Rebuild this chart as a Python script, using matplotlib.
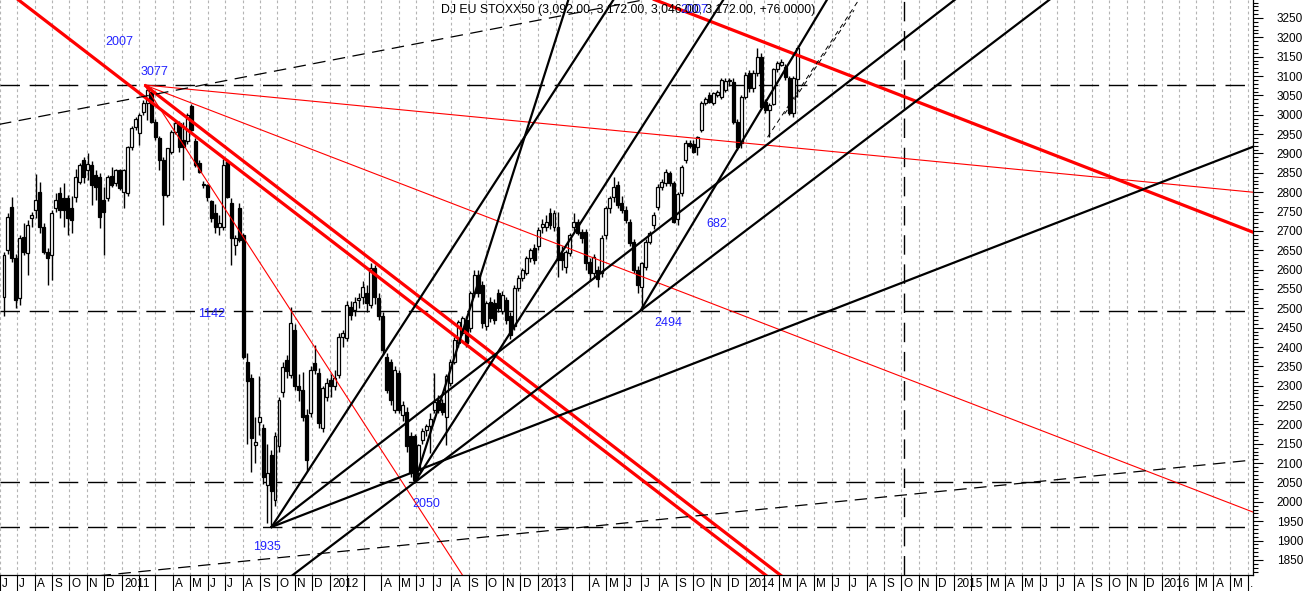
import numpy as np
import pandas as pd
import matplotlib
matplotlib.use('Agg')
import matplotlib.pyplot as plt
import matplotlib.dates as mdates
from matplotlib.ticker import MultipleLocator
from matplotlib.transforms import blended_transform_factory

plt.rcParams['font.family'] = ['Liberation Sans', 'DejaVu Sans']

# weekly candles, first week and OHLC
first_week = '2010-06-08'
opens = [2530, 2651, 2763, 2629, 2526, 2685, 2642, 2733, 2754, 2801,
         2711, 2646, 2638, 2758, 2797, 2784, 2784, 2760, 2788, 2827,
         2884, 2857, 2870, 2844, 2840, 2780, 2784, 2842, 2823, 2857,
         2801, 2797, 2918, 2969, 2952, 3008, 3030, 3060, 2982, 2939,
         2883, 2793, 2905, 2956, 2978, 2935, 2931, 3023, 2931, 2876,
         2822, 2818, 2776, 2745, 2711, 2711, 2879, 2771, 2664, 2758,
         2689, 2362, 2319, 2147, 2207, 2190, 2044, 2121, 2005, 2143,
         2285, 2367, 2328, 2444, 2298, 2290, 2225, 2229, 2358, 2332,
         2190, 2272, 2315, 2300, 2328, 2427, 2423, 2504, 2496, 2522,
         2530, 2539, 2509, 2603, 2526, 2479, 2375, 2362, 2238, 2332,
         2224, 2233, 2169, 2169, 2074, 2160, 2186, 2195, 2237, 2263,
         2255, 2220, 2306, 2362, 2410, 2436, 2470, 2449, 2539, 2586,
         2560, 2453, 2517, 2513, 2539, 2492, 2522, 2479, 2453, 2552,
         2578, 2590, 2629, 2655, 2660, 2711, 2711, 2745, 2711, 2711,
         2642, 2608, 2642, 2711, 2724, 2698, 2698, 2620, 2590, 2599,
         2590, 2690, 2758, 2788, 2818, 2771, 2754, 2724, 2672, 2599,
         2556, 2608, 2672, 2715, 2763, 2814, 2823, 2849, 2823, 2730,
         2797, 2883, 2926, 2925, 2918, 2961, 3030, 3050, 3030, 3050,
         3047, 3064, 3086, 3085, 2982, 2926, 3047, 3107, 3068, 3107,
         3150, 3034, 3012, 3029, 3117, 3129, 3124, 3094, 3004, 3092]
highs = [2645, 2745, 2788, 2640, 2690, 2720, 2728, 2750, 2847, 2827,
         2720, 2655, 2754, 2797, 2814, 2823, 2793, 2790, 2861, 2875,
         2892, 2900, 2880, 2857, 2849, 2814, 2844, 2866, 2861, 2861,
         2861, 2920, 2970, 2995, 3004, 3038, 3077, 3070, 2990, 2945,
         2890, 2915, 2960, 2987, 2985, 2982, 3004, 3027, 2940, 2882,
         2830, 2822, 2780, 2770, 2740, 2887, 2885, 2785, 2690, 2771,
         2695, 2385, 2330, 2220, 2324, 2200, 2150, 2135, 2180, 2270,
         2360, 2380, 2504, 2460, 2330, 2335, 2240, 2350, 2405, 2345,
         2300, 2320, 2330, 2340, 2435, 2445, 2520, 2520, 2530, 2540,
         2570, 2560, 2616, 2612, 2540, 2490, 2385, 2370, 2350, 2340,
         2260, 2245, 2180, 2175, 2150, 2190, 2200, 2229, 2332, 2275,
         2265, 2330, 2370, 2425, 2470, 2480, 2480, 2545, 2600, 2600,
         2570, 2520, 2530, 2525, 2550, 2545, 2530, 2490, 2560, 2585,
         2605, 2635, 2655, 2665, 2710, 2730, 2740, 2760, 2755, 2750,
         2660, 2650, 2695, 2745, 2730, 2705, 2705, 2630, 2640, 2610,
         2690, 2765, 2790, 2840, 2830, 2790, 2765, 2730, 2680, 2610,
         2620, 2680, 2700, 2750, 2820, 2835, 2860, 2855, 2830, 2800,
         2870, 2935, 2935, 2935, 2945, 3035, 3045, 3058, 3060, 3065,
         3095, 3095, 3095, 3095, 2990, 3050, 3110, 3115, 3115, 3172,
         3160, 3040, 3030, 3120, 3140, 3145, 3130, 3100, 3100, 3172]
lows = [2479, 2640, 2620, 2500, 2509, 2637, 2586, 2711, 2733, 2694,
        2640, 2560, 2573, 2750, 2733, 2711, 2690, 2694, 2775, 2820,
        2823, 2831, 2767, 2780, 2707, 2638, 2778, 2814, 2816, 2806,
        2758, 2790, 2910, 2960, 2922, 3000, 2987, 2978, 2935, 2857,
        2715, 2788, 2898, 2950, 2905, 2831, 2925, 2955, 2866, 2850,
        2810, 2776, 2724, 2694, 2690, 2702, 2785, 2612, 2638, 2672,
        2370, 2150, 2078, 2100, 2173, 2045, 1945, 1935, 1990, 2130,
        2270, 2320, 2320, 2290, 2260, 2210, 2080, 2220, 2330, 2190,
        2180, 2260, 2270, 2290, 2320, 2400, 2415, 2470, 2480, 2500,
        2510, 2490, 2500, 2510, 2470, 2380, 2280, 2250, 2230, 2230,
        2210, 2130, 2065, 2050, 2060, 2150, 2170, 2125, 2230, 2230,
        2225, 2147, 2300, 2355, 2400, 2430, 2400, 2440, 2530, 2530,
        2450, 2445, 2465, 2460, 2490, 2485, 2460, 2420, 2445, 2545,
        2570, 2585, 2620, 2615, 2650, 2695, 2700, 2705, 2700, 2582,
        2599, 2590, 2635, 2700, 2690, 2670, 2600, 2570, 2580, 2556,
        2580, 2680, 2745, 2775, 2760, 2745, 2720, 2660, 2590, 2540,
        2494, 2600, 2665, 2705, 2755, 2805, 2815, 2815, 2720, 2715,
        2790, 2875, 2915, 2900, 2895, 2955, 3025, 3030, 3025, 3045,
        3040, 3060, 3075, 2975, 2910, 2915, 3040, 3060, 3060, 3100,
        3015, 3005, 2943, 3025, 3110, 3125, 3090, 2999, 2995, 3046]
closes = [2638, 2737, 2629, 2522, 2681, 2646, 2715, 2741, 2780, 2711,
          2646, 2629, 2745, 2780, 2754, 2754, 2733, 2728, 2840, 2870,
          2840, 2874, 2819, 2814, 2737, 2750, 2840, 2819, 2857, 2810,
          2857, 2918, 2965, 2990, 2999, 3030, 3064, 2982, 2943, 2883,
          2793, 2913, 2956, 2978, 2918, 2918, 2999, 2961, 2870, 2853,
          2818, 2788, 2733, 2711, 2720, 2870, 2788, 2681, 2681, 2676,
          2375, 2311, 2164, 2155, 2220, 2065, 2074, 2027, 2169, 2263,
          2349, 2337, 2461, 2298, 2290, 2220, 2108, 2341, 2341, 2203,
          2293, 2306, 2298, 2320, 2427, 2435, 2509, 2483, 2517, 2526,
          2556, 2513, 2603, 2530, 2479, 2392, 2289, 2263, 2341, 2238,
          2250, 2143, 2074, 2056, 2147, 2182, 2195, 2215, 2259, 2237,
          2233, 2324, 2362, 2418, 2465, 2474, 2410, 2539, 2586, 2539,
          2461, 2513, 2474, 2470, 2500, 2535, 2470, 2431, 2552, 2578,
          2599, 2629, 2651, 2625, 2702, 2719, 2724, 2715, 2745, 2625,
          2625, 2646, 2690, 2724, 2694, 2681, 2616, 2590, 2633, 2577,
          2681, 2758, 2784, 2814, 2767, 2754, 2728, 2668, 2599, 2560,
          2616, 2672, 2694, 2741, 2814, 2827, 2853, 2823, 2724, 2795,
          2866, 2926, 2920, 2905, 2943, 3030, 3040, 3034, 3055, 3058,
          3090, 3086, 3090, 2982, 2918, 3047, 3103, 3068, 3107, 3150,
          3021, 3012, 3025, 3117, 3133, 3137, 3098, 3004, 3096, 3172]

# horizontal support / resistance levels
levels = [3077, 2494, 2050, 1935]
vline_date = '2014-10-05'

# anchor points (date, price)
peak = ('2011-02-10', 3077)
low_1935 = ('2011-09-21', 1935)
low_2050 = ('2012-05-29', 2050)
low_2494 = ('2013-06-30', 2494)

red_thick = [(('2010-11-18', 3141), ('2014-01-01', 1850), True),
             (peak, ('2014-01-27', 1850), False),
             (('2013-11-30', 3224), ('2016-06-09', 2697), True)]
red_thin = [(peak, ('2016-06-09', 2800), False),
            (peak, ('2016-06-09', 1974), False),
            (peak, ('2012-07-01', 1927), False)]
black_lines = [(low_1935, ('2013-05-13', 3296), False),
               (low_2050, ('2013-02-23', 3296), False),
               (low_1935, ('2015-01-02', 3296), False),
               (low_2050, ('2013-11-22', 3296), False),
               (low_1935, ('2016-06-09', 2917), False),
               (low_2050, low_2494, True),
               (low_2494, ('2014-05-23', 3296), False)]
dashed_lines = [(('2010-06-13', 2979), ('2012-01-04', 3141), True),
                (('2010-09-28', 1801), ('2016-06-09', 2108), True)]
short_dashed = [(('2014-02-08', 2942), ('2014-07-18', 3296)),
                (('2014-03-10', 3002), ('2014-07-10', 3270))]

labels_txt = ['2007', '3077', '1142', '1935', '2050', '2494', '682', '2007']
labels_pos = [('2010-12-27', 3188), ('2011-02-27', 3110), ('2011-06-08', 2485),
              ('2011-09-12', 1883), ('2012-06-18', 1994), ('2013-08-17', 2462),
              ('2013-11-11', 2718), ('2013-10-02', 3271)]

month_labels = (['J', 'J', 'A', 'S', 'O', 'N', 'D']
                + ['2011', '', '', 'A', 'M', 'J', 'J', 'A', 'S', 'O', 'N', 'D']
                + ['2012', '', '', 'A', 'M', 'J', 'J', 'A', 'S', 'O', 'N', 'D']
                + ['2013', '', '', 'A', 'M', 'J', 'J', 'A', 'S', 'O', 'N', 'D']
                + ['2014', '', 'M', 'A', 'M', 'J', 'J', 'A', 'S', 'O', 'N', 'D']
                + ['2015', '', 'M', 'A', 'M', 'J', 'J', 'A', 'S', 'O', 'N', 'D']
                + ['2016', '', 'M', 'A', 'M', '.'])

title = 'DJ EU STOXX50 (3,092.00, 3,172.00, 3,046.00, 3,172.00, +76.0000)'


def dnum(d):
    return mdates.date2num(pd.Timestamp(d))


fig = plt.figure(figsize=(13.06, 5.91), dpi=100)
ax = fig.add_axes([0, 16 / 591, 1253 / 1306, 575 / 591])

px_per_day = 0.5703
x_left = dnum('2011-01-01') - 120 / px_per_day
x_right = x_left + 1253 / px_per_day
ax.set_xlim(x_left, x_right)
ax.set_ylim(1811, 3296.5)

months = pd.date_range('2010-06-01', '2016-06-01', freq='MS')
mnums = mdates.date2num(months.to_pydatetime())
for m in mnums:
    ax.axvline(m, color='#b4b4b4', lw=0.8, ls=(0, (2.5, 2.5)), zorder=0)

for lv in levels:
    ax.axhline(lv, color='black', lw=1.0, ls=(0, (14, 7)), zorder=1)
ax.axvline(dnum(vline_date), color='black', lw=1.0, ls=(0, (14, 7)), zorder=1)

# candles
weeks = pd.date_range(first_week, periods=len(opens), freq='7D')
wx = mdates.date2num(weeks.to_pydatetime())
o = np.array(opens, float)
h = np.array(highs, float)
l = np.array(lows, float)
c = np.array(closes, float)
ax.vlines(wx, l, h, color='black', lw=1.0, zorder=2)
body_lo = np.minimum(o, c)
body_h = np.maximum(np.abs(c - o), 2.0)
cols = np.where(c >= o, 'white', 'black')
ax.bar(wx, body_h, bottom=body_lo, width=5.2, color=cols, edgecolor='black',
       linewidth=0.9, zorder=2)


def draw(p0, p1, both, **kw):
    x0, y0 = dnum(p0[0]), p0[1]
    x1, y1 = dnum(p1[0]), p1[1]
    k = (y1 - y0) / (x1 - x0)
    xs = x_left - 200 if both else x0
    xe = x_right + 200
    ax.plot([xs, xe], [y0 + k * (xs - x0), y0 + k * (xe - x0)], **kw)


for p0, p1, both in red_thick:
    draw(p0, p1, both, color='#ff0000', lw=2.3, zorder=3, solid_capstyle='butt')
for p0, p1, both in red_thin:
    draw(p0, p1, both, color='#ff0000', lw=0.8, zorder=3)
for p0, p1, both in black_lines:
    draw(p0, p1, both, color='black', lw=1.6, zorder=3)
for p0, p1, both in dashed_lines:
    draw(p0, p1, both, color='black', lw=0.9, ls=(0, (10, 6)), zorder=3)
for p0, p1 in short_dashed:
    ax.plot([dnum(p0[0]), dnum(p1[0])], [p0[1], p1[1]], color='black', lw=0.7,
            ls=(0, (5, 4)), zorder=3)

for t, (d, p) in zip(labels_txt, labels_pos):
    ax.text(dnum(d), p, t, color='#2222ff', fontsize=9, ha='center', va='center', zorder=4)

ax.text(441 / 1253, 1 - 10 / 575, title, transform=ax.transAxes, fontsize=8.8,
        ha='left', va='center', zorder=4)

# axes styling
for s in ['left', 'top']:
    ax.spines[s].set_visible(False)
for s in ['right', 'bottom']:
    ax.spines[s].set_linewidth(0.9)

ax.set_xticks(mnums)
ax.set_xticklabels([])
ax.tick_params(axis='x', direction='out', length=11.5, width=0.8)
trans = blended_transform_factory(ax.transData, ax.transAxes)
for m, lab in zip(mnums, month_labels):
    ax.text(m + 4, -0.0155, lab, transform=trans, ha='left', va='center',
            fontsize=8.5, clip_on=False)

ax.yaxis.tick_right()
ax.yaxis.set_major_locator(MultipleLocator(50))
ax.yaxis.set_minor_locator(MultipleLocator(10))
ax.tick_params(axis='y', which='major', length=7, width=0.8, labelsize=8.5, pad=10)
ax.tick_params(axis='y', which='minor', length=3.5, width=0.8)

fig.savefig('out.png', dpi=100)
